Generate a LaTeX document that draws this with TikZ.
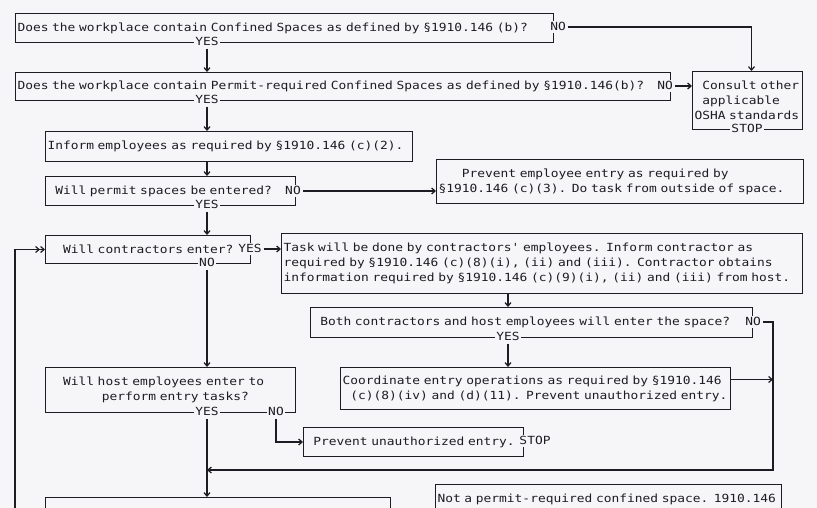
\documentclass[tikz,border=0pt]{standalone}
\usepackage{fontspec}
\setmonofont[FakeStretch=1.15]{DejaVu Sans Mono}
\usetikzlibrary{arrows.meta}
\definecolor{paper}{RGB}{246,246,248}
\definecolor{ink}{RGB}{28,28,34}
\newcommand\flowfont{\fontsize{11.2}{15}\selectfont\ttfamily}

\begin{document}
\begin{tikzpicture}[x=1pt,y=-1pt, ink, line width=1pt,
	box/.style={draw, align=left, inner xsep=2pt, inner ysep=0pt, font=\flowfont, anchor=north west},
	lbl/.style={fill=paper, inner sep=1.5pt, text height=8pt, text depth=1.5pt, font=\flowfont},
	arr/.style={-{Straight Barb[length=3.5pt,width=6pt]}, line width=1.2pt},
	arrr/.style={-{Straight Barb[length=3.5pt,width=6pt]Straight Barb[length=3.5pt,width=6pt]}, line width=1.2pt}]
	\useasboundingbox (0,0) rectangle (817,508);
	\clip (0,0) rectangle (817,508);
	\fill[paper] (0,0) rectangle (817,508);
	\coordinate (trunk) at (207,0);
	\coordinate (branch) at (508,0);
	\coordinate (loopc) at (773,470);
	\coordinate (back) at (15,530);
	% boxes
	\node[box, text width=534pt, minimum height=29pt] (q1) at (15,13) {Does the workplace contain Confined Spaces as defined by §1910.146 (b)?};
	\node[box, text width=651pt, minimum height=28pt] (q2) at (15,72) {Does the workplace contain Permit-required Confined Spaces as defined by §1910.146(b)?};
	\node[box, text width=106pt, minimum height=58pt] (cons) at (692,71) {\phantom{x}Consult other\\\phantom{x}applicable\\OSHA standards};
	\node[box, text width=363pt, minimum height=30pt] (inform) at (45,131) {Inform employees as required by §1910.146 (c)(2).};
	\node[box, text width=246pt, minimum height=29pt] (q3) at (45,176) {\phantom{x}Will permit spaces be entered?};
	\node[box, text width=363pt, minimum height=44pt] (prevent) at (436,159) {\phantom{xxx}Prevent employee entry as required by\\§1910.146 (c)(3). Do task from outside of space.};
	\node[box, text width=201pt, minimum height=28pt] (q4) at (45,235) {\phantom{xx}Will contractors enter?};
	\node[box, text width=517pt, minimum height=60pt] (task) at (281,233) {Task will be done by contractors' employees. Inform contractor as\\required by §1910.146 (c)(8)(i), (ii) and (iii). Contractor obtains\\information required by §1910.146 (c)(9)(i), (ii) and (iii) from host.};
	\node[box, text width=438pt, minimum height=30pt] (both) at (310,307) {\phantom{x}Both contractors and host employees will enter the space?};
	\node[box, text width=386pt, minimum height=42pt] (coord) at (340,367) {Coordinate entry operations as required by §1910.146\\\phantom{x}(c)(8)(iv) and (d)(11). Prevent unauthorized entry.};
	\node[box, text width=246pt, minimum height=45pt] (host) at (45,367) {\phantom{xx}Will host employees enter to\\\phantom{xxxxxxx}perform entry tasks?};
	\node[box, text width=216pt, minimum height=29pt] (stop) at (303,427) {\phantom{x}Prevent unauthorized entry.};
	\node[box, text width=341pt, minimum height=40pt] (last) at (45,497) {};
	\node[box, text width=342pt, minimum height=30pt] (notpermit) at (435,484) {Not a permit-required confined space. 1910.146};
	% answers on the borders
	\foreach \x/\y/\n/\t in {207/42/q1yes/YES, 558/27/q1no/NO, 207/100/q2yes/YES, 665/86/q2no/NO,
		747/129/consstop/STOP, 207/205/q3yes/YES, 293/191/q3no/NO, 250/249/q4yes/YES,
		207/263/q4no/NO, 508/337/bothyes/YES, 753/322/bothno/NO, 207/412/hostyes/YES,
		276/412/hostno/NO, 535/441/stopstop/STOP}
		\node[lbl] (\n) at (\x,\y) {\t};
	% connectors
	\draw[arr] (q1yes) -- (trunk |- q2.north);
	\draw[arr] (q1no) -| ([xshift=4pt]cons.north);
	\draw[arr] (q2no) -- (q2no -| cons.west);
	\draw[arr] (q2yes) -- (trunk |- inform.north);
	\draw[arr] (trunk |- inform.south) -- (trunk |- q3.north);
	\draw[arr] (q3no) -- (q3no -| prevent.west);
	\draw[arr] (q3yes) -- (trunk |- q4.north);
	\draw[arr] (q4yes) -- (q4yes -| task.west);
	\draw[arr] (q4no) -- (trunk |- host.north);
	\draw[arr] (branch |- task.south) -- (branch |- both.north);
	\draw[arr] (bothyes) -- (branch |- coord.north);
	\draw[arr] (bothno) -| (loopc) -- (trunk |- loopc);
	\draw[arr] ([yshift=9pt]coord.east) -- ([yshift=9pt]coord.east -| loopc);
	\draw[arr] (hostno) |- (stop.west);
	\draw[arr] (hostyes) -- (trunk |- last.north);
	\draw[arrr] (back) |- (q4.west);
\end{tikzpicture}
\end{document}
